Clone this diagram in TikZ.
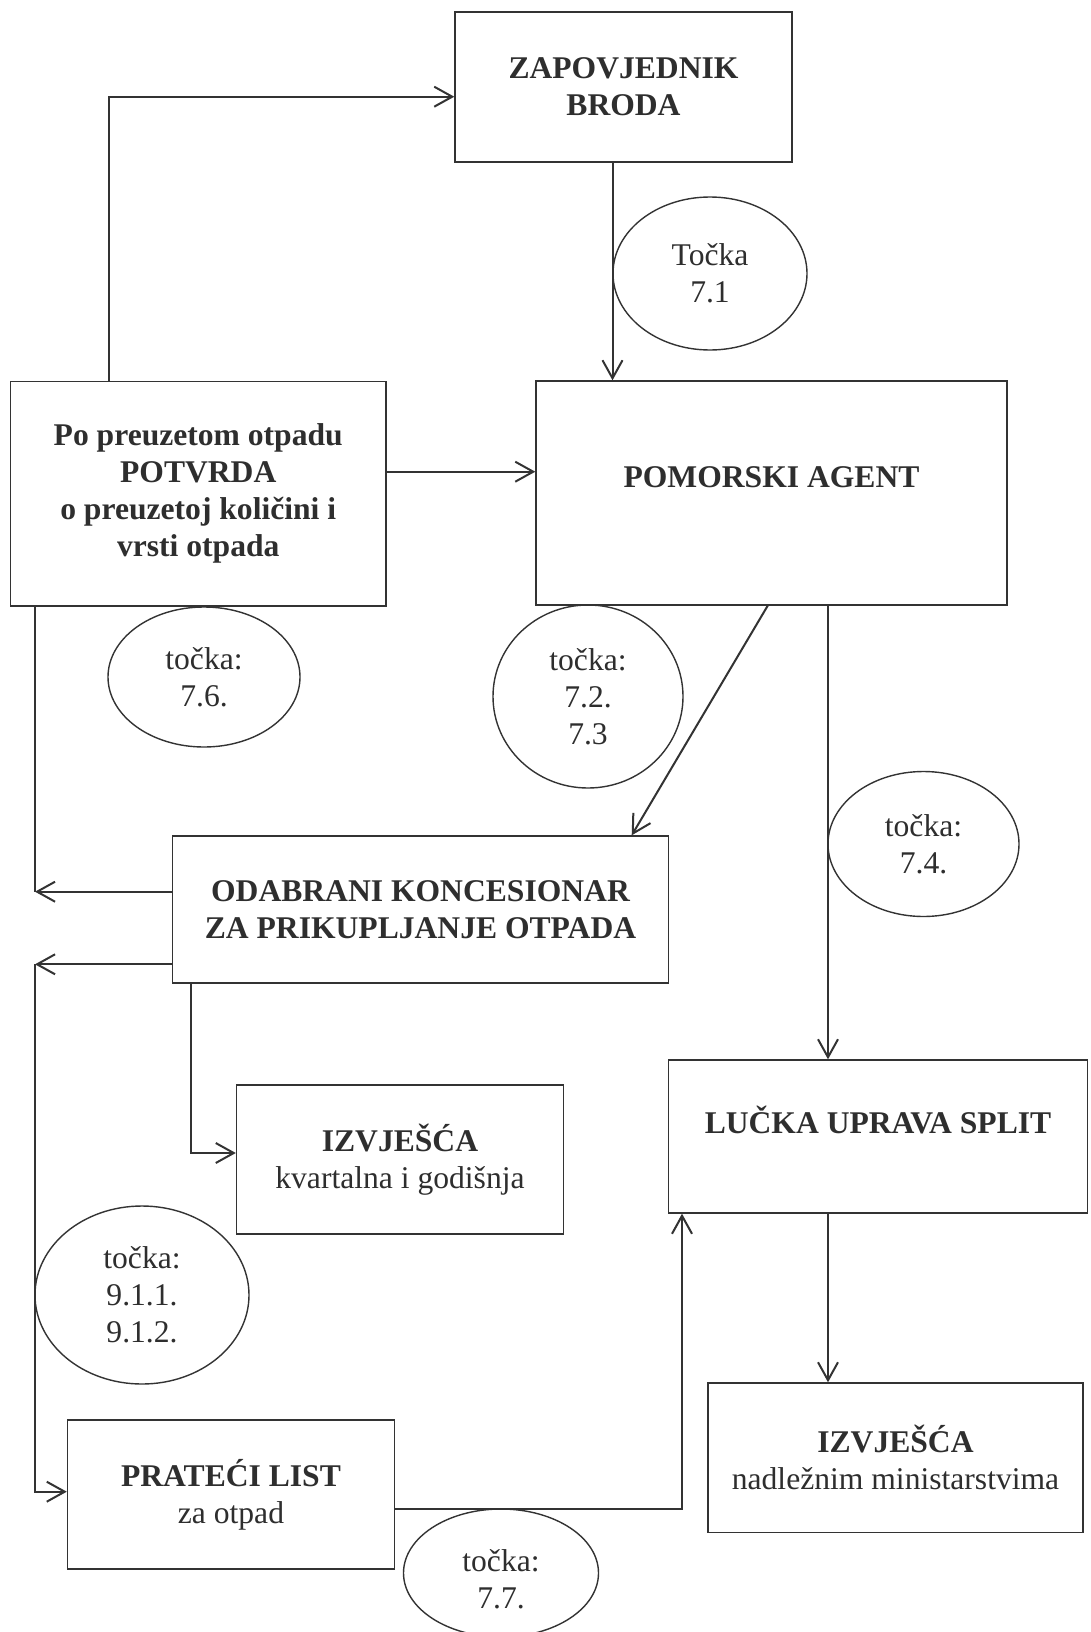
\documentclass[tikz,border=0pt]{standalone}
\usepackage{fontspec}
\setmainfont{Liberation Serif}
\usetikzlibrary{shapes.geometric,arrows.meta}
\newcommand\dfont{\fontsize{15.8}{18.5}\selectfont}
\begin{document}
\begin{tikzpicture}[x=0.5pt,y=-0.5pt,
  box/.style={draw=black!80, line width=0.7pt, inner sep=0pt, align=center, text=black!82, font=\dfont\bfseries},
  btxt/.style={inner sep=0pt, align=center, text=black!82, font=\dfont\bfseries},
  oval/.style={draw=black!80, ellipse, line width=0.7pt, inner sep=0pt, align=center, text=black!82, font=\dfont},
  ln/.style={draw=black!80, line width=1pt},
  arr/.style={draw=black!80, line width=1pt, -{Straight Barb[length=9pt,width=10pt,line width=1pt]}},
]
\useasboundingbox (0,0) rectangle (1091,1632);
\fill[white] (0,0) rectangle (1091,1632);

% boxes
\node[box, minimum width=168.5pt, minimum height=75pt] (zap) at (623.5,87) {ZAPOVJEDNIK\\BRODA};
\node[box, minimum width=187.75pt, minimum height=112.25pt] (pot) at (198.25,493.75)
  {Po preuzetom otpadu\\POTVRDA\\o preuzetoj količini i\\vrsti otpada};
\node[box, minimum width=235.5pt, minimum height=112pt] (pom) at (771.5,493) {};
\node[btxt] (pomT) at ([yshift=8pt]pom.center) {POMORSKI AGENT};
\node[box, minimum width=248pt, minimum height=73.5pt] (odab) at (420.5,909.5)
  {ODABRANI KONCESIONAR\\ZA PRIKUPLJANJE OTPADA};
\node[box, minimum width=163.5pt, minimum height=74.5pt] (izv1) at (400,1159.5)
  {IZVJEŠĆA\\\mdseries kvartalna i godišnja};
\node[box, minimum width=209.75pt, minimum height=76.5pt] (luc) at (878,1136.5) {};
\node[btxt] (lucT) at ([yshift=8pt]luc.center) {LUČKA UPRAVA SPLIT};
\node[box, minimum width=187.5pt, minimum height=74.75pt] (izv2) at (895.5,1457.75)
  {IZVJEŠĆA\\\mdseries nadležnim ministarstvima};
\node[box, minimum width=163.5pt, minimum height=74.5pt] (prat) at (231,1494.5)
  {PRATEĆI LIST\\\mdseries za otpad};

% ellipses
\node[oval, minimum width=97pt, minimum height=76.5pt] (e71) at (710,273.5) {Točka\\7.1};
\node[oval, minimum width=96pt, minimum height=70pt] (e76) at (204,677) {točka:\\7.6.};
\node[oval, minimum width=95pt, minimum height=91.5pt] (e72) at (588,696.5) {točka:\\7.2.\\7.3};
\node[oval, minimum width=95.5pt, minimum height=72.5pt] (e74) at (923.5,844) {točka:\\7.4.};
\node[oval, minimum width=107pt, minimum height=89pt] (e91) at (142,1295) {točka:\\9.1.1.\\9.1.2.};
\node[oval, minimum width=97.5pt, minimum height=64pt] (e77) at (501,1573) {};
\node[inner sep=0pt, align=center, text=black!82, font=\dfont] (e77T) at ([yshift=-3pt]e77.center) {točka:\\7.7.};

% helper coordinates
\coordinate (c1) at (108.5,96.7);
\coordinate (c2) at (612.5,0);
\coordinate (c3) at (0,471.7);
\coordinate (c4a) at (767.7,0);
\coordinate (c4b) at (631.7,0);
\coordinate (c5) at (828,0);
\coordinate (c6) at (35,891.7);
\coordinate (c7) at (35,964.3);
\coordinate (c8) at (35,1491.7);
\coordinate (c9) at (191,1153);
\coordinate (c10) at (682,1508.7);

% connectors
\draw[arr] (pot.north -| c1) -- (c1) -- (c1 -| zap.west);
\draw[arr] (zap.south -| c2) -- (pom.north -| c2);
\draw[arr] (pot.east |- c3) -- (pom.west |- c3);
\draw[arr] (pom.south -| c4a) -- (odab.north -| c4b);
\draw[arr] (pom.south -| c5) -- (luc.north -| c5);
\draw[ln] (pot.south -| c6) -- (c6);
\draw[arr] (odab.west |- c6) -- (c6);
\draw[arr] (odab.west |- c7) -- (c7);
\draw[arr] (c7) -- (c8) -- (prat.west |- c8);
\draw[arr] (odab.south -| c9) -- (c9) -- (izv1.west |- c9);
\draw[arr] (prat.east |- c10) -- (c10) -- (luc.south -| c10);
\draw[arr] (luc.south -| c5) -- (izv2.north -| c5);
\end{tikzpicture}
\end{document}
